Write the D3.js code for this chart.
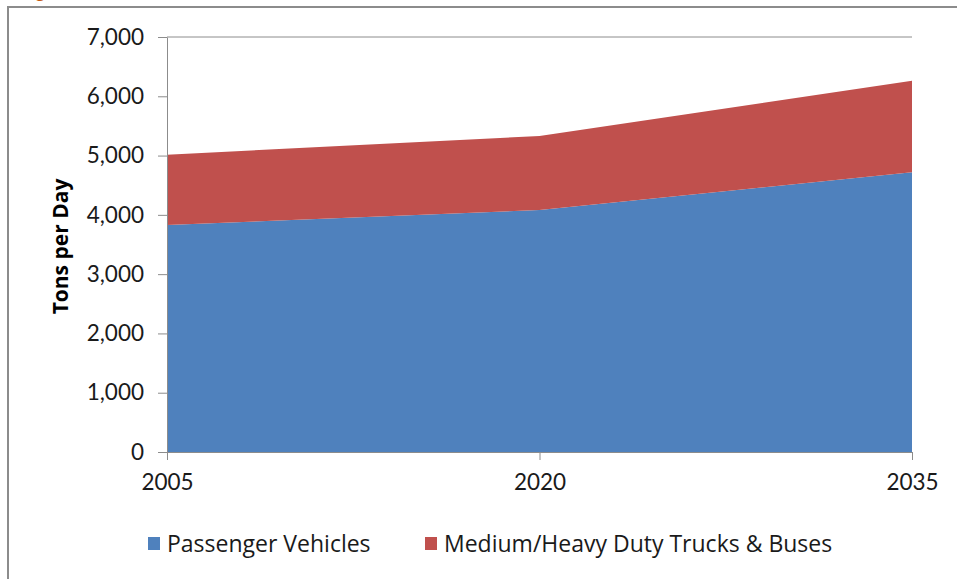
<!DOCTYPE html>
<html>
<head>
<meta charset="utf-8">
<script src="https://cdn.jsdelivr.net/npm/d3@7"></script>
<style>
  body { margin: 0; background: #fff; }
  svg { display: block; font-family: 'Open Sans', sans-serif; }
</style>
</head>
<body>
<div class="chart"></div>
<script>
// data
const years = [2005, 2020, 2035];
const passenger = [3830, 4080, 4720];
const trucks = [1185, 1250, 1540];
const yTicks = [0, 1000, 2000, 3000, 4000, 5000, 6000, 7000];
const seriesNames = ['Passenger Vehicles', 'Medium/Heavy Duty Trucks & Buses'];
const seriesColors = ['#4f81bd', '#c0504d'];

const svg_width = 957;
const svg_height = 579;
const chart_margin = {top:37, right:45, bottom:127, left:167};
const chart_width = svg_width - (chart_margin.left + chart_margin.right);
const chart_height = svg_height - (chart_margin.top + chart_margin.bottom);

const svg = d3.select('.chart').append('svg')
  .attr('width', svg_width).attr('height', svg_height);

// outer frame, runs off the right and bottom edges
svg.append('rect')
  .attr('x', 8).attr('y', 7).attr('width', 980).attr('height', 600)
  .style('fill', 'none').style('stroke', '#8c8c8c').style('stroke-width', 2);

// cut-off title above the frame
svg.append('text').attr('x', 22).attr('y', -3)
  .text('Fig').style('font-size', '16px').style('font-weight', 'bold')
  .style('fill', '#c65911');

const g = svg.append('g')
  .attr('transform', `translate(${chart_margin.left},${chart_margin.top})`);

const xScale = d3.scaleLinear().domain([2005, 2035]).range([0, chart_width]);
const yScale = d3.scaleLinear().domain([0, 7000]).range([chart_height, 0]);

const rows = years.map((y, i) => ({year: y, passenger: passenger[i], trucks: trucks[i]}));
const stacked = d3.stack().keys(['passenger', 'trucks'])(rows);

const area = d3.area()
  .x(d => xScale(d.data.year))
  .y0(d => yScale(d[0]))
  .y1(d => yScale(d[1]));

g.selectAll('.area').data(stacked).join('path')
  .attr('class', 'area')
  .attr('d', area)
  .style('fill', (d, i) => seriesColors[i]);

// top line at 7,000
g.append('line')
  .attr('x1', 0).attr('x2', chart_width)
  .attr('y1', yScale(7000)).attr('y2', yScale(7000))
  .style('stroke', '#8c8c8c').style('stroke-width', 1);

// y axis
const yAxis = d3.axisLeft(yScale).tickValues(yTicks)
  .tickFormat(d3.format(',')).tickSizeInner(9).tickSizeOuter(0).tickPadding(14);
const yAxisDraw = g.append('g').attr('class', 'y axis').call(yAxis);

// x axis
const xAxis = d3.axisBottom(xScale).tickValues(years)
  .tickFormat(d3.format('d')).tickSizeInner(8).tickSizeOuter(0).tickPadding(14);
const xAxisDraw = g.append('g').attr('class', 'x axis')
  .attr('transform', `translate(0,${chart_height})`).call(xAxis);

svg.selectAll('.axis path, .axis line').style('stroke', '#8c8c8c');
svg.selectAll('.axis text').style('font-size', '22.5px').style('fill', '#1a1a1a')
  .style('font-family', "'Lato', sans-serif");

// y title
svg.append('text')
  .attr('transform', `translate(68,${chart_margin.top + chart_height / 2 + 2}) rotate(-90)`)
  .attr('text-anchor', 'middle')
  .text('Tons per Day')
  .style('font-size', '21px').style('font-weight', 'bold').style('fill', '#000');

// legend
const legendX = [148, 425];
const legend = svg.append('g').attr('class', 'legend');
legend.selectAll('rect').data(seriesNames).join('rect')
  .attr('x', (d, i) => legendX[i]).attr('y', 537)
  .attr('width', 12).attr('height', 13)
  .style('fill', (d, i) => seriesColors[i]);
legend.selectAll('text').data(seriesNames).join('text')
  .attr('x', (d, i) => legendX[i] + 19).attr('y', 552)
  .text(d => d)
  .style('font-size', '23px').style('fill', '#1a1a1a');
</script>
</body>
</html>
